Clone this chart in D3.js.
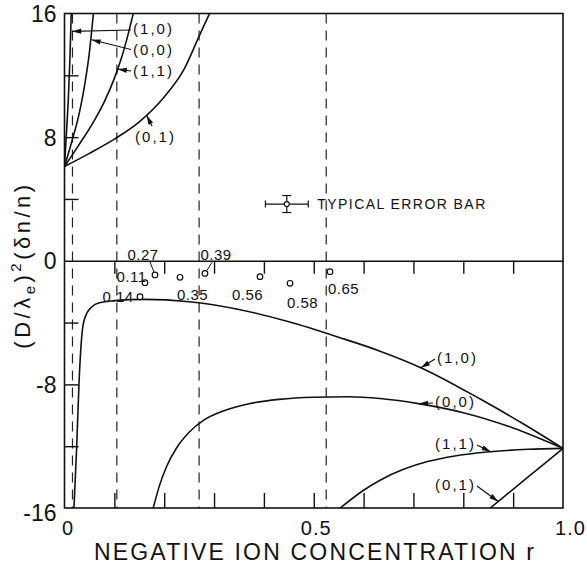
<!DOCTYPE html>
<html><head><meta charset="utf-8">
<script src="https://cdn.jsdelivr.net/npm/d3@7"></script>
<style>
body{margin:0;background:#fff}
svg{display:block}
text{font-family:"Liberation Sans",Arial,sans-serif;fill:#111}
</style>
</head><body>
<svg id="chart" width="587" height="567"></svg>
<script>
// ---------- data (r, (D/λe)^2 (δn/n)) ----------
const upper10 = [[0,6.1],[0.004,8.3],[0.008,10.7],[0.011,13.2],[0.0135,16]];
const upper00 = [[0,6.1],[0.015,7.75],[0.03,9.6],[0.04,11.28],[0.05,13.5],[0.058,16]];
const upper11 = [[0,6.1],[0.03,7.55],[0.06,9.09],[0.08,10.3],[0.1,11.8],[0.115,13.2],[0.128,14.7],[0.138,16]];
const upper01 = [[0,6.1],[0.05,6.95],[0.1,7.87],[0.15,8.99],[0.2,10.6],[0.24,12.4],[0.271,14.6],[0.291,16]];
const lower10 = [[0.019,-16],[0.0245,-12],[0.029,-8],[0.037,-4.2],[0.044,-3.45],[0.055,-2.98],[0.07,-2.72],[0.1,-2.58],[0.16,-2.5],[0.25,-2.65],[0.35,-3.15],[0.45,-3.95],[0.55,-4.95],[0.633,-5.85],[0.717,-6.95],[0.834,-8.95],[0.92,-10.55],[1,-12.14]];
const lower00 = [[0.178,-16],[0.19,-14.6],[0.205,-13.3],[0.225,-12.1],[0.25,-11.1],[0.28,-10.3],[0.32,-9.7],[0.37,-9.25],[0.43,-8.97],[0.5,-8.83],[0.57,-8.8],[0.633,-8.91],[0.713,-9.26],[0.8,-9.83],[0.9,-10.82],[1,-12.14]];
const lower11 = [[0.553,-16],[0.6,-14.85],[0.633,-14.2],[0.68,-13.5],[0.73,-12.98],[0.78,-12.65],[0.854,-12.36],[0.93,-12.2],[1,-12.14]];
const lower01 = [[0.854,-16],[0.927,-14.07],[1,-12.14]];

const pointR     = [0.1815, 0.1615, 0.1515, 0.2317, 0.2818, 0.3922, 0.4524, 0.5326];
const pointV     = [-0.92, -1.42, -2.33, -1.07, -0.82, -1.03, -1.46, -0.71];
const pointLabel = ["0.27","0.11","0.14","0.35","0.39","0.56","0.58","0.65"];

const dashR = [0.016, 0.105, 0.27, 0.525];
const minorR = [0.1,0.2,0.3,0.4,0.5,0.6,0.7,0.8,0.9];
const minorV = [-12,-8,-4,4,8,12];
const xTickVals = [0, 0.5, 1];
const xTickText = ["0","0.5","1.0"];
const yTickVals = [-16,-8,0,8,16];
const yTickText = ["-16","-8","0","8","16"];

const errCenter = [0.446, 3.67];
const errHalf = [0.043, 0.55];

// ---------- scales ----------
const svg = d3.select("#chart");
const x = d3.scaleLinear().domain([0,1]).range([64.5,563]);
const y = d3.scaleLinear().domain([-16,16]).range([508,13.5]);

svg.append("defs").append("clipPath").attr("id","clip")
  .append("rect").attr("x",x(0)).attr("y",y(16)).attr("width",x(1)-x(0)).attr("height",y(-16)-y(16));

// dashed verticals
svg.append("g").selectAll("line").data(dashR).join("line")
  .attr("x1",d=>x(d)).attr("x2",d=>x(d)).attr("y1",y(16)).attr("y2",y(-16))
  .attr("stroke","#222").attr("stroke-width",1.2).attr("stroke-dasharray","10,7");

// minor ticks: bottom (upward), zero line (downward), left (inward)
const gb = svg.append("g").attr("transform",`translate(0,${y(-16)})`)
  .call(d3.axisTop(x).tickValues(minorR).tickSize(15).tickFormat(""));
gb.select(".domain").remove();
const gz = svg.append("g").attr("transform",`translate(0,${y(0)})`)
  .call(d3.axisBottom(x).tickValues(minorR).tickSize(13).tickSizeOuter(0).tickFormat(""));
const gl = svg.append("g").attr("transform",`translate(${x(0)},0)`)
  .call(d3.axisRight(y).tickValues(minorV).tickSize(14).tickFormat(""));
gl.select(".domain").remove();
svg.selectAll(".tick line, .domain").attr("stroke","#111").attr("stroke-width",1.4);

// frame
svg.append("rect").attr("x",x(0)).attr("y",y(16)).attr("width",x(1)-x(0)).attr("height",y(-16)-y(16))
  .attr("fill","none").attr("stroke","#111").attr("stroke-width",1.6);

// tick labels
const xl = svg.append("g").attr("transform",`translate(0,${y(-16)})`)
  .call(d3.axisBottom(x).tickValues(xTickVals).tickSize(0).tickPadding(13)
    .tickFormat((d,i)=>xTickText[i]));
xl.select(".domain").remove();
xl.selectAll("text").attr("font-size",20).attr("font-family",'"Liberation Sans",Arial,sans-serif')
  .attr("fill","#111").attr("letter-spacing",1).attr("dx",(d,i)=>[3,2,7][i]);
const yl = svg.append("g").attr("transform",`translate(${x(0)},0)`)
  .call(d3.axisLeft(y).tickValues(yTickVals).tickSize(0).tickPadding(8)
    .tickFormat((d,i)=>yTickText[i]));
yl.select(".domain").remove();
yl.selectAll("text").attr("font-size",23).attr("font-family",'"Liberation Sans",Arial,sans-serif')
  .attr("fill","#111").attr("dy",(d,i)=>i===0?"0.55em":"0.35em");

// curves
const line = d3.line().x(d=>x(d[0])).y(d=>y(d[1])).curve(d3.curveMonotoneX);
const cg = svg.append("g").attr("clip-path","url(#clip)");
[upper10,upper00,upper11,upper01,lower10,lower00,lower11,lower01].forEach(s=>{
  cg.append("path").attr("d",line(s)).attr("fill","none").attr("stroke","#111").attr("stroke-width",1.6);
});

// curve labels with arrows
function arrow(x1,y1,x2,y2){
  svg.append("line").attr("x1",x1).attr("y1",y1).attr("x2",x2).attr("y2",y2)
    .attr("stroke","#111").attr("stroke-width",1.2);
  const a=Math.atan2(y2-y1,x2-x1), L=9, w=2.6;
  const bx=x2-L*Math.cos(a), by=y2-L*Math.sin(a);
  const px=-Math.sin(a)*w, py=Math.cos(a)*w;
  svg.append("path").attr("d",`M${x2},${y2}L${bx+px},${by+py}L${bx-px},${by-py}Z`).attr("fill","#111");
}
const ann = [
  {t:"(1,0)", tx:133, ty:34, fx:131, fy:30, r:0.0155, v:14.84},
  {t:"(0,0)", tx:133, ty:55, fx:131, fy:49.5, r:0.0545, v:14.3},
  {t:"(1,1)", tx:133, ty:76, fx:131, fy:71, r:0.107, v:12.4},
  {t:"(0,1)", tx:135, ty:142, fx:152, fy:126, r:0.165, v:9.4},
  {t:"(1,0)", tx:437, ty:363, fx:435, fy:359, r:0.715, v:-6.92},
  {t:"(0,0)", tx:435, ty:407, fx:433, fy:403, r:0.711, v:-9.25},
  {t:"(1,1)", tx:435, ty:449, fx:477, fy:445, r:0.855, v:-12.36},
  {t:"(0,1)", tx:435, ty:490, fx:477, fy:486, r:0.87, v:-15.58}
];
ann.forEach(a=>{
  svg.append("text").attr("x",a.tx).attr("y",a.ty).attr("font-size",15)
    .attr("textLength",39).attr("lengthAdjust","spacing").text(a.t);
  arrow(a.fx,a.fy,x(a.r),y(a.v));
});

// data points
const pts = pointR.map((r,i)=>({r, v:pointV[i], t:pointLabel[i]}));
const lblOff = [[-12,-20],[-13.5,-6],[-22,0.5],[12.5,18],[11,-18],[-12.5,18],[12.5,20],[13.5,17]];
svg.append("line").attr("x1",x(pts[0].r)-5).attr("y1",y(pts[0].v)-13).attr("x2",x(pts[0].r)-1).attr("y2",y(pts[0].v)-3)
  .attr("stroke","#111").attr("stroke-width",1);
svg.append("line").attr("x1",x(pts[4].r)+7).attr("y1",y(pts[4].v)-11).attr("x2",x(pts[4].r)+2).attr("y2",y(pts[4].v)-3)
  .attr("stroke","#111").attr("stroke-width",1);
svg.append("g").selectAll("circle").data(pts).join("circle")
  .attr("cx",d=>x(d.r)).attr("cy",d=>y(d.v)).attr("r",2.8)
  .attr("fill","#fff").attr("stroke","#111").attr("stroke-width",1.2);
svg.append("g").selectAll("text").data(pts).join("text")
  .attr("x",(d,i)=>x(d.r)+lblOff[i][0]).attr("y",(d,i)=>y(d.v)+lblOff[i][1]+5)
  .attr("text-anchor","middle").attr("font-size",15).attr("letter-spacing",0.5).text(d=>d.t);

// typical error bar
const ex=x(errCenter[0]), ey=y(errCenter[1]);
const ex0=x(errCenter[0]-errHalf[0]), ex1=x(errCenter[0]+errHalf[0]);
const ey0=y(errCenter[1]+errHalf[1]), ey1=y(errCenter[1]-errHalf[1]);
const eg = svg.append("g").attr("stroke","#111").attr("stroke-width",1.2);
eg.append("line").attr("x1",ex0).attr("x2",ex1).attr("y1",ey).attr("y2",ey);
eg.append("line").attr("x1",ex0).attr("x2",ex0).attr("y1",ey-3.5).attr("y2",ey+3.5);
eg.append("line").attr("x1",ex1).attr("x2",ex1).attr("y1",ey-3.5).attr("y2",ey+3.5);
eg.append("line").attr("x1",ex).attr("x2",ex).attr("y1",ey0).attr("y2",ey1);
eg.append("line").attr("x1",ex-4.5).attr("x2",ex+4.5).attr("y1",ey0).attr("y2",ey0);
eg.append("line").attr("x1",ex-4.5).attr("x2",ex+4.5).attr("y1",ey1).attr("y2",ey1);
eg.append("circle").attr("cx",ex).attr("cy",ey).attr("r",2.5).attr("fill","#fff");
svg.append("text").attr("x",ex1+9).attr("y",ey+5).attr("font-size",14)
  .attr("textLength",168).attr("lengthAdjust","spacing").text("TYPICAL ERROR BAR");

// axis titles
svg.append("text").attr("x",94).attr("y",560).attr("font-size",23)
  .attr("textLength",440).attr("lengthAdjust","spacing").text("NEGATIVE ION CONCENTRATION r");
const yt = svg.append("text").attr("transform","translate(30,265) rotate(-90)")
  .attr("text-anchor","middle").attr("font-size",22).attr("letter-spacing",3.5);
yt.append("tspan").text("(D/λ");
yt.append("tspan").attr("font-size",15).attr("dy",5).text("e");
yt.append("tspan").attr("dy",-5).text(")");
yt.append("tspan").attr("font-size",15).attr("dy",-9).text("2");
yt.append("tspan").attr("dy",9).text("(δn/n)");
</script>
</body></html>
